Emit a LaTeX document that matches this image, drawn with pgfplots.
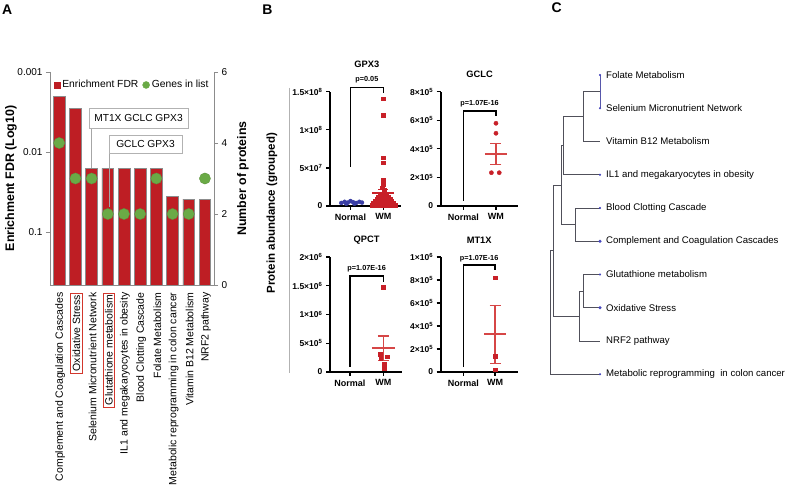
\documentclass[border=0pt]{standalone}
\usepackage{fontspec}
\setmainfont{Liberation Sans}
\usepackage{pgfplots}
\pgfplotsset{compat=1.18}

\definecolor{barred}{RGB}{190,30,36}
\definecolor{bargray}{RGB}{140,140,140}
\definecolor{dotgreen}{RGB}{106,170,70}
\definecolor{axgray}{RGB}{140,140,140}
\definecolor{boxred}{RGB}{210,55,45}
\definecolor{pblue}{RGB}{58,62,165}
\definecolor{pred}{RGB}{200,32,40}
\definecolor{ered}{RGB}{214,70,70}
\definecolor{dgray}{RGB}{80,80,90}
\definecolor{leafblue}{RGB}{70,70,190}

\newcommand{\fs}[1]{\fontsize{#1}{#1}\selectfont}
\setlength{\fboxrule}{0.8pt}
\setlength{\fboxsep}{1.5pt}

\pgfplotsset{
  pb/.style={scale only axis, anchor=south west,
    axis x line*=bottom, axis y line*=left,
    axis line style={black, line width=1.6pt, -},
    tick align=outside, major tick length=4pt,
    tick style={black, line width=1.3pt},
    xtick={1,2}, xticklabels={Normal,WM},
    xticklabel style={font=\bfseries\fs{9}},
    yticklabel style={font=\bfseries\fs{8.5}},
    scaled y ticks=false,
    ymin=0, clip=false},
  dendro/.style={dgray, line width=0.9pt},
}

\begin{document}
\begin{tikzpicture}
\useasboundingbox (0,0) rectangle (789pt,486pt);
\fill[white] (0,0) rectangle (789pt,486pt);

% panel letters
\node[font=\bfseries\fs{14}, inner sep=0pt] at (7.2pt,476pt) {A};
\node[font=\bfseries\fs{14}, inner sep=0pt] at (267.5pt,476pt) {B};
\node[font=\bfseries\fs{14}, inner sep=0pt] at (556.7pt,478pt) {C};

% ---------------- Panel A : FDR bars (left, reversed log axis)
\begin{axis}[
  at={(132pt,307.5pt)}, anchor=center, scale only axis,
  width=164pt, height=213pt,
  xmin=0.43, xmax=10.56,
  ymode=log, y dir=reverse, ymin=0.001, ymax=0.4597,
  axis x line=none, axis y line*=left,
  axis line style={axgray, line width=0.8pt, -},
  ytick={0.001,0.01,0.1}, yticklabels={0.001,0.01,0.1},
  yminorticks=false,
  tick align=outside, major tick length=4pt,
  ytick style={axgray, line width=0.8pt},
  yticklabel style={font=\fs{10}, black},
  ylabel={Enrichment FDR (Log10)},
  ylabel style={font=\bfseries\fs{12.4}, at={(axis description cs:-0.238,0.5)}, anchor=center},
]
\addplot[ybar, bar width=0.72, fill=barred, draw=bargray, line width=0.6pt]
  coordinates {(1,0.00203) (2,0.00284) (3,0.016) (4,0.016) (5,0.016)
               (6,0.016) (7,0.016) (8,0.036) (9,0.0387) (10,0.0387)};
\end{axis}

% ---------------- Panel A : genes in list (right axis)
\begin{axis}[
  at={(132pt,307.5pt)}, anchor=center, scale only axis,
  width=164pt, height=213pt,
  xmin=0.43, xmax=10.56, ymin=0, ymax=6,
  axis x line*=bottom, axis y line*=right,
  axis line style={axgray, line width=0.8pt, -},
  ytick={0,2,4,6}, yticklabels={0,2,4,6},
  tick align=outside, major tick length=4pt,
  ytick style={axgray, line width=0.8pt},
  xtick={1,...,10}, xtick style={draw=none},
  xticklabels={Complement and Coagulation Cascades,
    {\fcolorbox{boxred}{white}{Oxidative Stress}},
    Selenium Micronutrient Network,
    {\fcolorbox{boxred}{white}{Glutathione metabolism}},
    IL1 and megakaryocytes in obesity,
    Blood Clotting Cascade,
    Folate Metabolism,
    Metabolic reprogramming in colon cancer,
    Vitamin B12 Metabolism,
    NRF2 pathway},
  xticklabel style={rotate=90, anchor=east, font=\fs{10.5}, yshift=-1pt},
  yticklabel style={font=\fs{10}},
  ylabel={Number of proteins},
  ylabel style={font=\bfseries\fs{12.4}, at={(axis description cs:1.177,0.5)}, anchor=center},
  legend style={at={(axis description cs:0.5,0.939)}, anchor=center, draw=none, fill=none,
    font=\fs{10.3}, legend columns=2, inner sep=0pt,
    /tikz/every even column/.append style={column sep=2pt}},
  clip=false,
]
\addlegendimage{legend image code/.code={\fill[barred] (0pt,-3.2pt) rectangle (6.4pt,3.2pt);}}
\addplot[only marks, mark=*, mark size=5.6pt,
  mark options={fill=dotgreen, draw=dotgreen!85!black, line width=0.3pt},
  legend image code/.code={\fill[dotgreen] (3.5pt,0pt) circle (3.5pt);}]
  coordinates {(1,4) (2,3) (3,3) (4,2) (5,2) (6,2) (7,3) (8,2) (9,2) (10,3)};
\legend{Enrichment FDR, Genes in list}
\end{axis}

% callouts
\draw[gray!70, line width=0.6pt] (91pt,358pt) -- (91pt,318pt);
\node[draw=gray!60, fill=white, line width=0.8pt, minimum width=99pt, minimum height=20pt,
      inner sep=0pt, font=\fs{10.2}] at (138.5pt,368pt) {MT1X GCLC GPX3};
\draw[gray!70, line width=0.6pt] (109pt,333pt) -- (109pt,279pt);
\node[draw=gray!60, fill=white, line width=0.8pt, minimum width=73pt, minimum height=18pt,
      inner sep=0pt, font=\fs{10.2}] at (145.5pt,342pt) {GCLC GPX3};

% ---------------- Panel B
\draw[gray!60, line width=1pt] (289pt,398pt) -- (289pt,113pt);
\node[rotate=90, font=\bfseries\fs{11.5}] at (272pt,273pt) {Protein abundance (grouped)};

% GPX3
\begin{axis}[pb, at={(330pt,280pt)}, width=71pt, height=114.3pt,
  xmin=0.375, xmax=2.54, ymax=1.5e8,
  ytick={0,5e7,1e8,1.5e8},
  yticklabels={0,5×10\textsuperscript{7},1×10\textsuperscript{8},1.5×10\textsuperscript{8}}]
\addplot[only marks, mark=*, mark size=2pt, pblue]
  coordinates {(0.72,4e6) (0.82,5.5e6) (0.92,4.5e6) (1.0,6.5e6) (1.08,5e6) (1.17,4e6)
               (1.27,5.5e6) (1.35,4.5e6) (0.87,3e6) (1.12,3e6)};
\addplot[pblue, line width=1.5pt] coordinates {(0.7,4.7e6) (1.3,4.7e6)};
\addplot[only marks, mark=square*, mark size=1.9pt, pred]
  coordinates {(2.00,1.407e8) (2.00,1.195e8) (2.00,6.33e7) (2.00,5.67e7) (2.00,3.45e7)
   (2.00,3.09e7) (2.00,2.79e7) (1.97,2.4e7) (2.03,2.1e7)
   (1.90,1.5e7) (2.10,1.5e7) (1.85,1.2e7) (2.00,1.2e7) (2.15,1.2e7)
   (1.80,9e6) (1.95,9e6) (2.05,9e6) (2.20,9e6)
   (1.75,6e6) (1.88,6e6) (2.00,6e6) (2.12,6e6) (2.25,6e6)
   (1.70,3.5e6) (1.82,3.5e6) (1.94,3.5e6) (2.06,3.5e6) (2.18,3.5e6) (2.30,3.5e6)
   (1.65,1.5e6) (1.77,1.5e6) (1.89,1.5e6) (2.01,1.5e6) (2.13,1.5e6) (2.25,1.5e6) (2.37,1.5e6)};
\addplot[pred, line width=2.3pt] coordinates {(1.66,1.745e7) (2.34,1.745e7)};
\addplot[pred, mark=none, error bars/.cd, y dir=both, y explicit,
  error bar style={pred, line width=1.3pt},
  error mark options={pred, line width=1.3pt, mark size=5pt, rotate=90}]
  coordinates {(2,1.745e7) += (0,0.445e7) -= (0,0.525e7)};
\addplot[black, line width=1.5pt] coordinates {(1,5.16e7) (1,1.558e8) (2,1.558e8) (2,1.487e8)};
\node[font=\bfseries\fs{7.3}] at (axis cs:1.5,1.654e8) {p=0.05};
\node[font=\bfseries\fs{9.3}] at (axis cs:1.5,1.86e8) {GPX3};
\end{axis}

% GCLC
\begin{axis}[pb, at={(440.7pt,280pt)}, width=77.3pt, height=114.3pt,
  xmin=0.31, xmax=2.674, ymax=8e5,
  ytick={0,2e5,4e5,6e5,8e5},
  yticklabels={0,2×10\textsuperscript{5},4×10\textsuperscript{5},6×10\textsuperscript{5},8×10\textsuperscript{5}}]
\addplot[only marks, mark=*, mark size=2.1pt, pred]
  coordinates {(2,5.79e5) (2,5.09e5) (1.86,2.33e5) (2.1,2.33e5)};
\addplot[ered, line width=2.3pt] coordinates {(1.66,3.64e5) (2.34,3.64e5)};
\addplot[ered, mark=none, error bars/.cd, y dir=both, y explicit,
  error bar style={ered, line width=1.3pt},
  error mark options={ered, line width=1.3pt, mark size=5.5pt, rotate=90}]
  coordinates {(2,3.64e5) += (0,0.75e5) -= (0,0.72e5)};
\addplot[black, line width=1.5pt] coordinates {(1,3.7e4) (1,6.65e5) (2,6.65e5) (2,6.3e5)};
\node[font=\bfseries\fs{7.3}] at (axis cs:1.5,7.19e5) {p=1.07E-16};
\node[font=\bfseries\fs{9.3}] at (axis cs:1.5,9.24e5) {GCLC};
\end{axis}

% QPCT
\begin{axis}[pb, at={(330pt,114pt)}, width=71.7pt, height=115pt,
  xmin=0.4, xmax=2.553, ymax=2e6,
  ytick={0,5e5,1e6,1.5e6,2e6},
  yticklabels={0,5×10\textsuperscript{5},1×10\textsuperscript{6},1.5×10\textsuperscript{6},2×10\textsuperscript{6}}]
\addplot[only marks, mark=square*, mark size=1.9pt, pred]
  coordinates {(2,1.48e6) (1.9,3.13e5) (2.12,2.66e5) (1.92,2.38e5) (2.02,1.39e5) (2.02,5.7e4)};
\addplot[ered, line width=2.3pt] coordinates {(1.66,4.17e5) (2.34,4.17e5)};
\addplot[ered, mark=none, error bars/.cd, y dir=both, y explicit,
  error bar style={ered, line width=1.3pt},
  error mark options={ered, line width=1.3pt, mark size=5.5pt, rotate=90}]
  coordinates {(2,4.17e5) += (0,2.09e5) -= (0,2.12e5)};
\addplot[black, line width=1.5pt] coordinates {(1,8.7e4) (1,1.67e6) (2,1.67e6) (2,1.565e6)};
\node[font=\bfseries\fs{7.3}] at (axis cs:1.5,1.8e6) {p=1.07E-16};
\node[font=\bfseries\fs{9.3}] at (axis cs:1.5,2.29e6) {QPCT};
\end{axis}

% MT1X
\begin{axis}[pb, at={(440.7pt,114pt)}, width=77.3pt, height=115pt,
  xmin=0.287, xmax=2.725, ymax=1e6,
  ytick={0,2e5,4e5,6e5,8e5,1e6},
  yticklabels={0,2×10\textsuperscript{5},4×10\textsuperscript{5},6×10\textsuperscript{5},8×10\textsuperscript{5},1×10\textsuperscript{6}}]
\addplot[only marks, mark=square*, mark size=1.9pt, pred]
  coordinates {(2,8.2e5) (2,1.4e5) (2,2e4)};
\addplot[ered, line width=2.3pt] coordinates {(1.66,3.3e5) (2.34,3.3e5)};
\addplot[ered, mark=none, error bars/.cd, y dir=both, y explicit,
  error bar style={ered, line width=1.3pt},
  error mark options={ered, line width=1.3pt, mark size=5.5pt, rotate=90}]
  coordinates {(2,3.3e5) += (0,2.5e5) -= (0,2.55e5)};
\addplot[black, line width=1.5pt] coordinates {(1,4.3e4) (1,9.3e5) (2,9.3e5) (2,8.87e5)};
\node[font=\bfseries\fs{7.3}] at (axis cs:1.5,9.87e5) {p=1.07E-16};
\node[font=\bfseries\fs{9.3}] at (axis cs:1.5,1.145e6) {MT1X};
\end{axis}

% ---------------- Panel C : dendrogram
\begin{axis}[at={(575pt,261.35pt)}, anchor=center, scale only axis,
  width=50pt, height=299.3pt, xmin=0, xmax=1, ymin=1, ymax=10,
  x dir=reverse, y dir=reverse, hide axis, clip=false]
\addplot[dendro, leafblue!70!gray] coordinates {(0,1) (0,2)};
\addplot[dendro] coordinates {(0,1.5) (0.333,1.5) (0.333,3) (0,3)};
\addplot[dendro] coordinates {(0.333,2.25) (0.733,2.25) (0.733,4) (0,4)};
\addplot[dendro] coordinates {(0,5) (0.5,5) (0.5,6) (0,6)};
\addplot[dendro] coordinates {(0.733,3.125) (0.767,3.125) (0.767,5.5) (0.5,5.5)};
\addplot[dendro] coordinates {(0,7) (0.333,7) (0.333,8) (0,8)};
\addplot[dendro] coordinates {(0.333,7.5) (0.413,7.5) (0.413,9) (0,9)};
\addplot[dendro] coordinates {(0.767,4.3125) (0.933,4.3125) (0.933,8.25) (0.413,8.25)};
\addplot[dendro] coordinates {(0.933,6.28) (1,6.28) (1,10) (0,10)};
\addplot[only marks, mark=*, mark size=0.8pt, leafblue] coordinates {(0,1) (0,2) (0,4) (0,5) (0,7) (0,10)};
\addplot[only marks, mark=*, mark size=1.4pt, leafblue] coordinates {(0,6) (0,8)};
\foreach \lab [count=\i] in {Folate Metabolism, Selenium Micronutrient Network,
  Vitamin B12 Metabolism, IL1 and megakaryocytes in obesity, Blood Clotting Cascade,
  Complement and Coagulation Cascades, Glutathione metabolism, Oxidative Stress,
  NRF2 pathway, Metabolic reprogramming\ \ in colon cancer}{
  \edef\temp{\noexpand\node[anchor=west, font=\noexpand\fs{9.6}, inner sep=0pt, xshift=6pt] at (axis cs:0,\i) {\lab};}
  \temp
}
\end{axis}
\end{tikzpicture}
\end{document}
